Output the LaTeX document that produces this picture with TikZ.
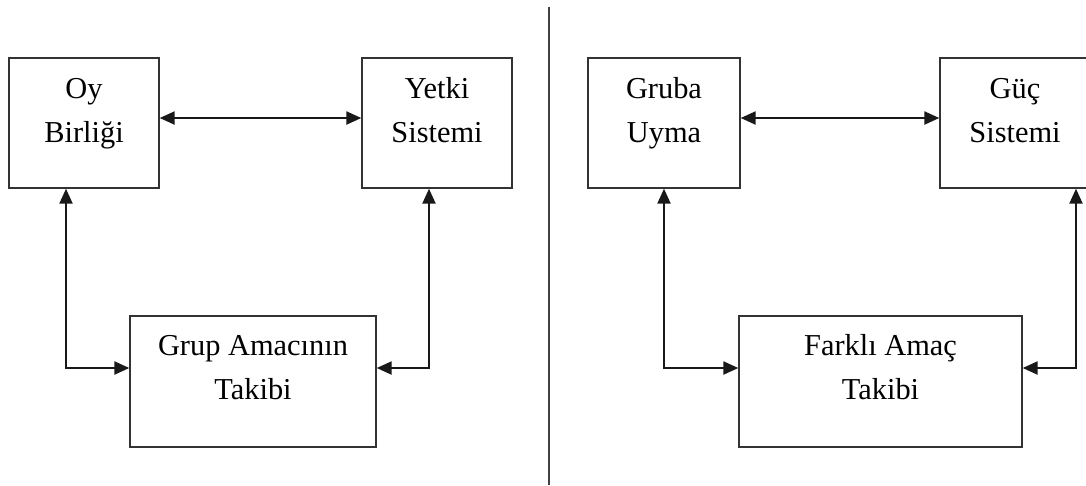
\documentclass[tikz,border=0pt]{standalone}
\usepackage{fontspec}
\setmainfont{Liberation Serif}
\usetikzlibrary{arrows.meta, calc}

\begin{document}
\begin{tikzpicture}[x=0.02cm, y=-0.02cm,
    box/.style={rectangle, draw=black!80, line width=0.8pt, inner sep=0pt, minimum height=2.6cm},
    txt/.style={anchor=north, align=center, inner sep=0pt, font=\fontsize{17.3}{25}\selectfont},
    link/.style={line width=1.3pt, draw=black!90, {Triangle[length=0.3cm, width=0.26cm]}-{Triangle[length=0.3cm, width=0.26cm]}},
]
\useasboundingbox (0,0) rectangle (1086,485);

% Divider
\draw[line width=0.8pt, black!75] (549,7) -- (549,485);

% Left panel
\node[box, minimum width=3cm] (oy) at (84,123) {};
\node[txt] (oyT) at ([yshift=-0.2cm]oy.north) {\strut Oy\\Birliği};
\node[box, minimum width=3cm] (yetki) at (437,123) {};
\node[txt] (yetkiT) at ([yshift=-0.2cm]yetki.north) {\strut Yetki\\Sistemi};
\node[box, minimum width=4.92cm, minimum height=2.62cm] (grup) at (253,381.5) {};
\node[txt] (grupT) at ([yshift=-0.18cm]grup.north) {\strut Grup Amacının\\Takibi};

\draw[link] ([yshift=0.1cm]oy.east) -- ([yshift=0.1cm]yetki.west);
\draw[link] ([xshift=-0.36cm]oy.south) |- ([yshift=0.27cm]grup.west);
\draw[link] ([xshift=-0.16cm]yetki.south) |- ([yshift=0.27cm]grup.east);

% Right panel
\node[box, minimum width=3.04cm] (gruba) at (664,123) {};
\node[txt] (grubaT) at ([yshift=-0.2cm]gruba.north) {\strut Gruba\\Uyma};
\node[box, minimum width=3cm] (guc) at (1015,123) {};
\node[txt] (gucT) at ([yshift=-0.2cm]guc.north) {\strut Güç\\Sistemi};
\node[box, minimum width=5.66cm, minimum height=2.62cm] (farkli) at (880.5,381.5) {};
\node[txt] (farkliT) at ([yshift=-0.18cm]farkli.north) {\strut Farklı Amaç\\Takibi};

\draw[link] ([yshift=0.1cm]gruba.east) -- ([yshift=0.1cm]guc.west);
\draw[link] (gruba.south) |- ([yshift=0.27cm]farkli.west);
\draw[link] ([xshift=1.22cm]guc.south) |- ([yshift=0.27cm]farkli.east);

\end{tikzpicture}
\end{document}
